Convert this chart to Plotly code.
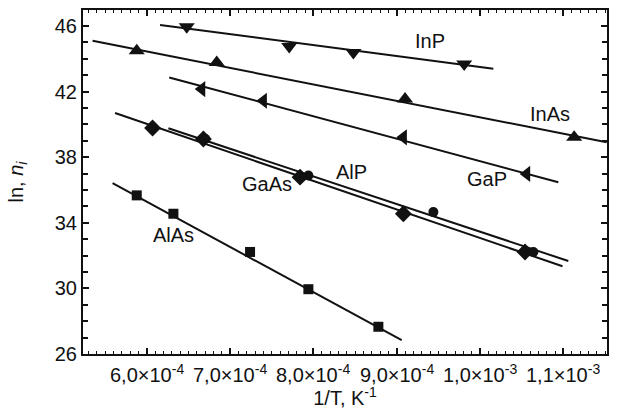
import plotly.graph_objects as go

# ---- data (x = 1/T in K^-1, y = ln n_i) ----
inp_x = [6.48e-4, 7.71e-4, 8.48e-4, 9.81e-4]
inp_y = [45.95, 44.75, 44.38, 43.68]
inp_fit_x = [6.16e-4, 10.16e-4]
inp_fit_y = [46.06, 43.39]

inas_x = [5.88e-4, 6.84e-4, 9.10e-4, 11.13e-4]
inas_y = [44.48, 43.77, 41.54, 39.21]
inas_fit_x = [5.35e-4, 11.52e-4]
inas_fit_y = [45.09, 38.91]

gap_x = [6.66e-4, 7.40e-4, 9.08e-4, 10.56e-4]
gap_y = [42.15, 41.44, 39.21, 36.98]
gap_fit_x = [6.27e-4, 10.94e-4]
gap_fit_y = [42.86, 36.47]

gaas_x = [6.07e-4, 6.68e-4, 7.84e-4, 9.08e-4, 10.54e-4]
gaas_y = [39.78, 39.11, 36.78, 34.55, 32.22]
gaas_fit_x = [5.62e-4, 10.99e-4]
gaas_fit_y = [40.69, 31.35]

alp_x = [6.70e-4, 7.94e-4, 9.44e-4, 10.64e-4]
alp_y = [39.12, 36.88, 34.65, 32.22]
alp_fit_x = [6.26e-4, 11.06e-4]
alp_fit_y = [39.76, 31.67]

alas_x = [5.88e-4, 6.32e-4, 7.24e-4, 7.94e-4, 8.78e-4]
alas_y = [35.67, 34.55, 32.22, 29.95, 27.66]
alas_fit_x = [5.59e-4, 9.06e-4]
alas_fit_y = [36.41, 26.85]

x_tickvals = [6e-4, 7e-4, 8e-4, 9e-4, 1.0e-3, 1.1e-3]
x_ticktext = ["6,0×10<sup>-4</sup>", "7,0×10<sup>-4</sup>", "8,0×10<sup>-4</sup>",
              "9,0×10<sup>-4</sup>", "1,0×10<sup>-3</sup>", "1,1×10<sup>-3</sup>"]
y_tickvals = [26, 30, 34, 38, 42, 46]

labels = ["InP", "InAs", "GaP", "AlP", "GaAs", "AlAs"]
label_x = [9.40e-4, 10.84e-4, 10.08e-4, 8.46e-4, 7.44e-4, 6.32e-4]
label_y = [45.09, 40.65, 36.68, 37.08, 36.38, 33.23]

INK = "#111111"
FONT = "Liberation Sans, Arial, sans-serif"

fig = go.Figure()

series = [
    (inp_x, inp_y, inp_fit_x, inp_fit_y, "triangle-down", 14),
    (inas_x, inas_y, inas_fit_x, inas_fit_y, "triangle-up", 14),
    (gap_x, gap_y, gap_fit_x, gap_fit_y, "triangle-left", 14),
    (gaas_x, gaas_y, gaas_fit_x, gaas_fit_y, "diamond", 13),
    (alp_x, alp_y, alp_fit_x, alp_fit_y, "circle", 10),
    (alas_x, alas_y, alas_fit_x, alas_fit_y, "square", 10),
]
for px, py, fx, fy, sym, size in series:
    fig.add_trace(go.Scatter(x=fx, y=fy, mode="lines",
                             line=dict(color=INK, width=2), showlegend=False,
                             hoverinfo="skip"))
    fig.add_trace(go.Scatter(x=px, y=py, mode="markers",
                             marker=dict(symbol=sym, size=size, color=INK,
                                         line=dict(width=0)),
                             showlegend=False))

for t, lx, ly in zip(labels, label_x, label_y):
    fig.add_annotation(x=lx, y=ly, text=t, showarrow=False,
                       font=dict(size=20, color=INK, family=FONT))

# x tick labels (placed at the tick values, below the axis)
for tv, tt in zip(x_tickvals, x_ticktext):
    fig.add_annotation(x=tv, y=0, xref="x", yref="paper", text=tt,
                       showarrow=False, xanchor="center", yanchor="top",
                       yshift=-5, font=dict(size=20, color=INK, family=FONT))

fig.update_layout(
    width=622, height=418,
    margin=dict(l=83, r=15, t=10, b=64, autoexpand=False),
    paper_bgcolor="white", plot_bgcolor="white",
    font=dict(family=FONT, size=20, color=INK),
)
fig.update_xaxes(
    range=[5.235e-4, 1.1524e-3],
    tickvals=x_tickvals, showticklabels=False,
    ticks="inside", ticklen=6, tickwidth=1.5, tickcolor=INK,
    minor=dict(dtick=1e-5, tick0=0, ticks="inside", ticklen=3, tickwidth=1, tickcolor=INK),
    showline=True, linecolor=INK, linewidth=2, mirror="ticks",
    showgrid=False, zeroline=False, automargin=False,
    title=dict(text="1/T, K<sup>-1</sup>", font=dict(size=20), standoff=36),
)
fig.update_yaxes(
    range=[26, 46.97],
    tickvals=y_tickvals,
    ticks="inside", ticklen=6, tickwidth=1.5, tickcolor=INK,
    minor=dict(dtick=1, tick0=0, ticks="inside", ticklen=5, tickwidth=1.5, tickcolor=INK),
    showline=True, linecolor=INK, linewidth=2, mirror="ticks",
    showgrid=False, zeroline=False, automargin=False,
    tickfont=dict(size=20),
    title=dict(text="ln, <i>n<sub>i</sub></i>", font=dict(size=20), standoff=26),
)

fig.write_html("out.html", config={"displayModeBar": False},
               post_script="document.body.style.margin='0';document.body.style.padding='0';")
